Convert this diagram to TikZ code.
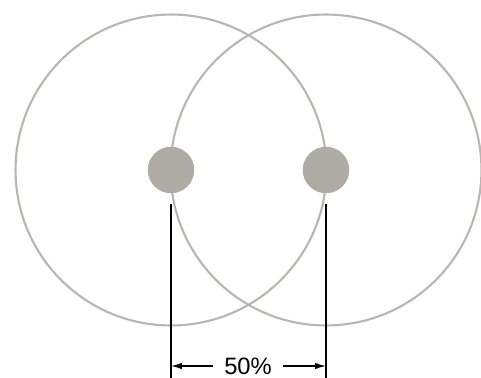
\documentclass[tikz,border=0pt]{standalone}
\usepackage{fontspec}
\setmainfont{Liberation Sans}
\usetikzlibrary{arrows.meta,positioning}
\definecolor{ringgray}{RGB}{184,182,177}
\definecolor{hubgray}{RGB}{175,172,166}
\tikzset{
    ring/.style={circle,draw=ringgray,line width=1.2pt,minimum size=6.22cm,inner sep=0pt},
    hub/.style={circle,fill=hubgray,minimum size=0.93cm,inner sep=0pt},
    dimline/.style={line width=1.1pt},
    dimarrow/.style={-{Latex[length=2.2mm,width=1.3mm]},line width=0.7pt}
}

\begin{document}
\begin{tikzpicture}[x=0.02cm,y=-0.02cm]
    \useasboundingbox (0,0) rectangle (481,378);
    \node[ring] (ringL) at (171,170) {};
    \node[ring] (ringR) at (326,170) {};
    \node[hub] (hubL) at (171,170) {};
    \node[hub] (hubR) at (326,170) {};

    \coordinate (baseL) at (171,380);
    \coordinate (baseR) at (326,380);
    \foreach \h/\b in {hubL/baseL,hubR/baseR} {\draw[dimline] ([yshift=-0.2cm]\h.south) -- (\b);}

    \coordinate (tipL) at (171,366);
    \coordinate (tipR) at (326,366);
    \node[font=\fontsize{13.5}{15}\selectfont,inner xsep=0.22cm,inner ysep=0pt] (pct) at (248,366) {50\%};
    \draw[dimarrow] (pct) -- (tipL);
    \draw[dimarrow] (pct) -- (tipR);
\end{tikzpicture}
\end{document}
